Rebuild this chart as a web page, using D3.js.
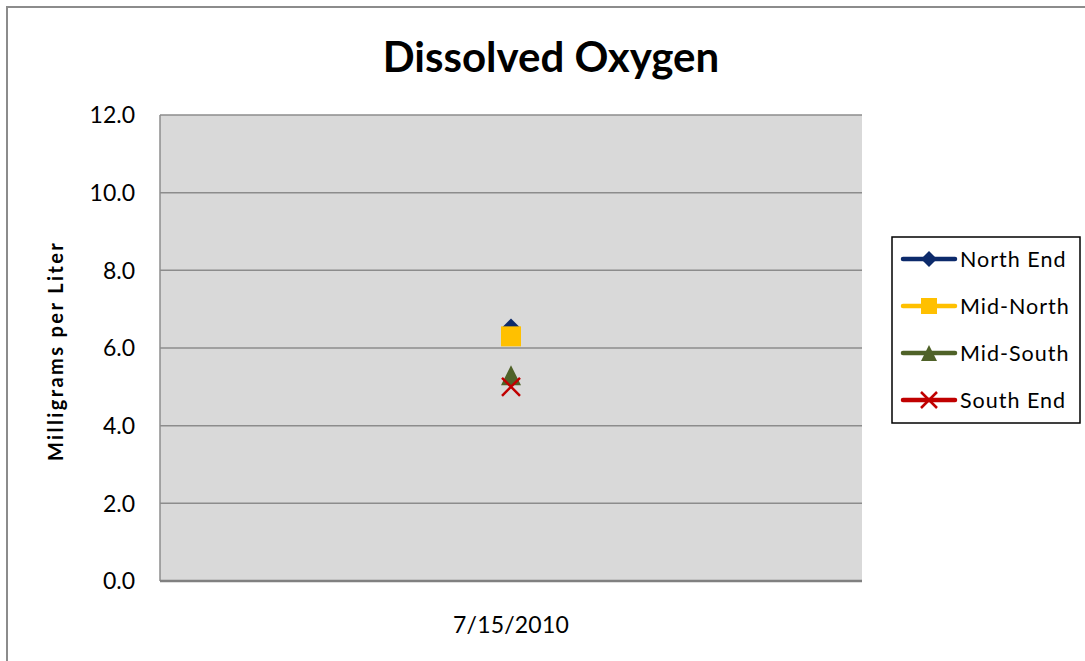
<!DOCTYPE html>
<html><head><meta charset="utf-8">
<script src="https://cdn.jsdelivr.net/npm/d3@7"></script>
<style>body{margin:0;background:#fff}svg{display:block}text{font-family:Lato,"Liberation Sans",sans-serif}</style>
</head><body><svg id="c" width="1085" height="661"></svg>
<script>
const categories = ["7/15/2010"];
const seriesNames = ["North End","Mid-North","Mid-South","South End"];
const northEnd = [6.5];
const midNorth = [6.3];
const midSouth = [5.3];
const southEnd = [5.0];
const yTicks = [0,2,4,6,8,10,12];
const colors = ["#0c2a6b","#ffc000","#4f6228","#c00000"];
const symbols = ["diamond","square","triangle","x"];
const seriesValues = [northEnd, midNorth, midSouth, southEnd];

const svg = d3.select("#c");
svg.append("rect").attr("x",7).attr("y",7).attr("width",1100).attr("height",700)
  .attr("fill","#fff").attr("stroke","#8c8c8c").attr("stroke-width",2);

const L=160,R=862,T=115,B=581;
const x = d3.scaleBand().domain(categories).range([L,R]);
const y = d3.scaleLinear().domain([0,12]).range([B,T]);

svg.append("rect").attr("x",L).attr("y",T).attr("width",R-L).attr("height",B-T).attr("fill","#d9d9d9");
svg.append("g").selectAll("line").data(yTicks.filter(d=>d>0)).join("line")
  .attr("x1",L).attr("x2",R).attr("y1",d=>y(d)).attr("y2",d=>y(d))
  .attr("stroke","#8c8c8c").attr("stroke-width",1.5);
svg.append("line").attr("x1",L).attr("x2",L).attr("y1",T).attr("y2",B).attr("stroke","#8c8c8c").attr("stroke-width",1.5);
svg.append("line").attr("x1",L).attr("x2",R).attr("y1",B).attr("y2",B).attr("stroke","#808080").attr("stroke-width",2.5);

// y axis labels
svg.append("g").selectAll("text").data(yTicks).join("text")
  .attr("x",135).attr("y",d=>y(d)).attr("dy","0.36em").attr("text-anchor","end")
  .attr("font-size",23).attr("letter-spacing",0).attr("fill","#000").text(d=>d3.format(".1f")(d));
svg.append("g").selectAll("text").data(categories).join("text")
  .attr("x",d=>x(d)+x.bandwidth()/2).attr("y",633).attr("text-anchor","middle")
  .attr("font-size",23).attr("letter-spacing",0.2).text(d=>d);

svg.append("text").attr("x",551).attr("y",72).attr("text-anchor","middle")
  .attr("font-size",42).attr("font-weight","bold").text("Dissolved Oxygen");
svg.append("text").attr("transform","translate(63,351) rotate(-90)").attr("text-anchor","middle")
  .attr("font-size",20).attr("letter-spacing",2.4).attr("font-weight","bold").text("Milligrams per Liter");

function marker(g, type, color, s){
  if(type==="diamond") g.append("path").attr("d",`M0,${-s}L${s},0L0,${s}L${-s},0Z`).attr("fill",color);
  else if(type==="square") g.append("rect").attr("x",-s).attr("y",-s).attr("width",2*s).attr("height",2*s).attr("fill",color);
  else if(type==="triangle") g.append("path").attr("d",`M0,${-s}L${s},${s}L${-s},${s}Z`).attr("fill",color);
  else g.append("path").attr("d",`M${-s},${-s}L${s},${s}M${s},${-s}L${-s},${s}`).attr("stroke",color).attr("stroke-width",2.5).attr("fill","none");
}
const sizes=[10,10,10,9];
seriesValues.forEach((vals,i)=>{
  vals.forEach((v,j)=>{
    const g=svg.append("g").attr("transform",`translate(${x(categories[j])+x.bandwidth()/2},${y(v)})`);
    marker(g,symbols[i],colors[i],sizes[i]);
  });
});

// legend
svg.append("rect").attr("x",892).attr("y",237).attr("width",188).attr("height",186)
  .attr("fill","#fff").attr("stroke","#000").attr("stroke-width",1.5);
seriesNames.forEach((n,i)=>{
  const cy=259+i*47;
  const g=svg.append("g");
  g.append("line").attr("x1",903).attr("x2",955).attr("y1",cy).attr("y2",cy)
    .attr("stroke",colors[i]).attr("stroke-width",4.5).attr("stroke-linecap","round");
  const mg=g.append("g").attr("transform",`translate(929,${cy})`);
  marker(mg,symbols[i],colors[i],8);
  g.append("text").attr("x",960).attr("y",cy).attr("dy","0.36em").attr("font-size",21.5).attr("letter-spacing",1.0).text(n);
});
</script></body></html>
